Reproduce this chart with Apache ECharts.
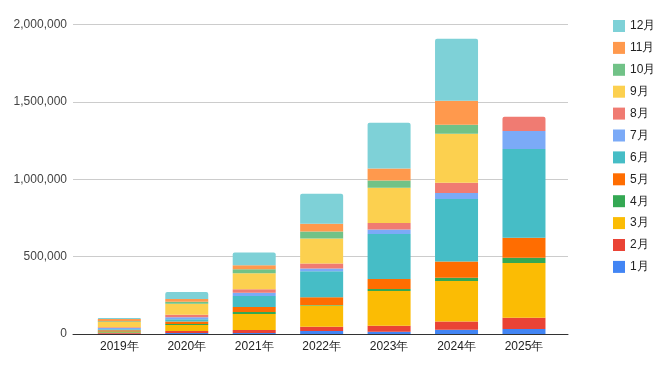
<!DOCTYPE html>
<html>
<head>
<meta charset="utf-8">
<script src="https://cdn.jsdelivr.net/npm/echarts@6/dist/echarts.min.js"></script>
<style>html,body{margin:0;padding:0;background:#fff}#c{width:667px;height:367px}</style>
</head>
<body>
<div id="c"></div>
<script>
const years = ['2019年','2020年','2021年','2022年','2023年','2024年','2025年'];
const months = ['1月','2月','3月','4月','5月','6月','7月','8月','9月','10月','11月','12月'];
const m1  = [2000, 6000, 6500, 19000, 15000, 28000, 32000];
const m2  = [4000, 13000, 19000, 28000, 39000, 52000, 73000];
const m3  = [4000, 39000, 104000, 138000, 224000, 263000, 354000];
const m4  = [6000, 7000, 13000, 3000, 13000, 21000, 34000];
const m5  = [9000, 15000, 32000, 49000, 65000, 104000, 129000];
const m6  = [6000, 16000, 71000, 168000, 291000, 405000, 574000];
const m7  = [8000, 13000, 21000, 19000, 28000, 39000, 116000];
const m8  = [4000, 15000, 22000, 32000, 43000, 65000, 93000];
const m9  = [34000, 71000, 104000, 162000, 227000, 317000, 0];
const m10 = [5000, 13000, 26000, 45000, 47000, 58000, 0];
const m11 = [15000, 19000, 26000, 50000, 78000, 155000, 0];
const m12 = [6000, 44000, 82000, 194000, 296000, 401000, 0];
const yTicks = [0, 500000, 1000000, 1500000, 2000000];

const seriesValues = [m1,m2,m3,m4,m5,m6,m7,m8,m9,m10,m11,m12];
const colors = ['#4285F4','#EA4335','#FBBC04','#34A853','#FF6D01','#46BDC6','#7BAAF7','#F07B72','#FCD04F','#71C287','#FF994D','#7ED1D7'];

// topmost non-zero series per category gets rounded top
const topIdx = years.map((_, j) => {
  let t = -1;
  seriesValues.forEach((arr, i) => { if (arr[j] > 0) t = i; });
  return t;
});

const fmt = v => String(v).replace(/\B(?=(\d{3})+(?!\d))/g, ',');
const font = 'Liberation Sans, Arial, sans-serif';

const series = seriesValues.map((arr, i) => ({
  name: months[i],
  type: 'bar',
  stack: 'total',
  xAxisIndex: 1,
  yAxisIndex: 1,
  barWidth: 43,
  itemStyle: { color: colors[i] },
  emphasis: { disabled: true },
  data: arr.map((v, j) => ({
    value: v,
    itemStyle: topIdx[j] === i ? { borderRadius: [2, 2, 0, 0] } : {}
  }))
}));

const chart = echarts.init(document.getElementById('c'), null, { renderer: 'canvas' });
chart.setOption({
  animation: false,
  color: colors,
  legend: {
    orient: 'vertical',
    left: 608,
    top: 15,
    itemWidth: 12,
    itemHeight: 12,
    itemGap: 9.9,
    icon: 'rect',
    data: months.slice().reverse(),
    textStyle: { fontFamily: font, fontSize: 12, color: '#222' }
  },
  grid: [
    { left: 73, right: 99, top: 24.6, bottom: 33, containLabel: false },
    { left: 85.6, right: 109.3, top: 24.6, bottom: 33, containLabel: false }
  ],
  xAxis: [
    { gridIndex: 0, type: 'category', data: [''], axisLine: { lineStyle: { color: '#333', width: 1 } },
      axisTick: { show: false }, axisLabel: { show: false }, z: 10 },
    { gridIndex: 1, type: 'category', data: years, axisLine: { show: false }, axisTick: { show: false },
      axisLabel: { fontFamily: font, fontSize: 12, color: '#222', margin: 7 } }
  ],
  yAxis: [
    { gridIndex: 0, type: 'value', min: yTicks[0], max: yTicks[yTicks.length - 1], interval: yTicks[1] - yTicks[0],
      axisLine: { show: false }, axisTick: { show: false },
      axisLabel: { fontFamily: font, fontSize: 12, color: '#444', margin: 6, formatter: v => fmt(v) },
      splitLine: { lineStyle: { color: '#ccc', width: 1 } } },
    { gridIndex: 1, type: 'value', min: yTicks[0], max: yTicks[yTicks.length - 1], interval: yTicks[1] - yTicks[0],
      show: false, splitLine: { show: false } }
  ],
  series: series
});
</script>
</body>
</html>
